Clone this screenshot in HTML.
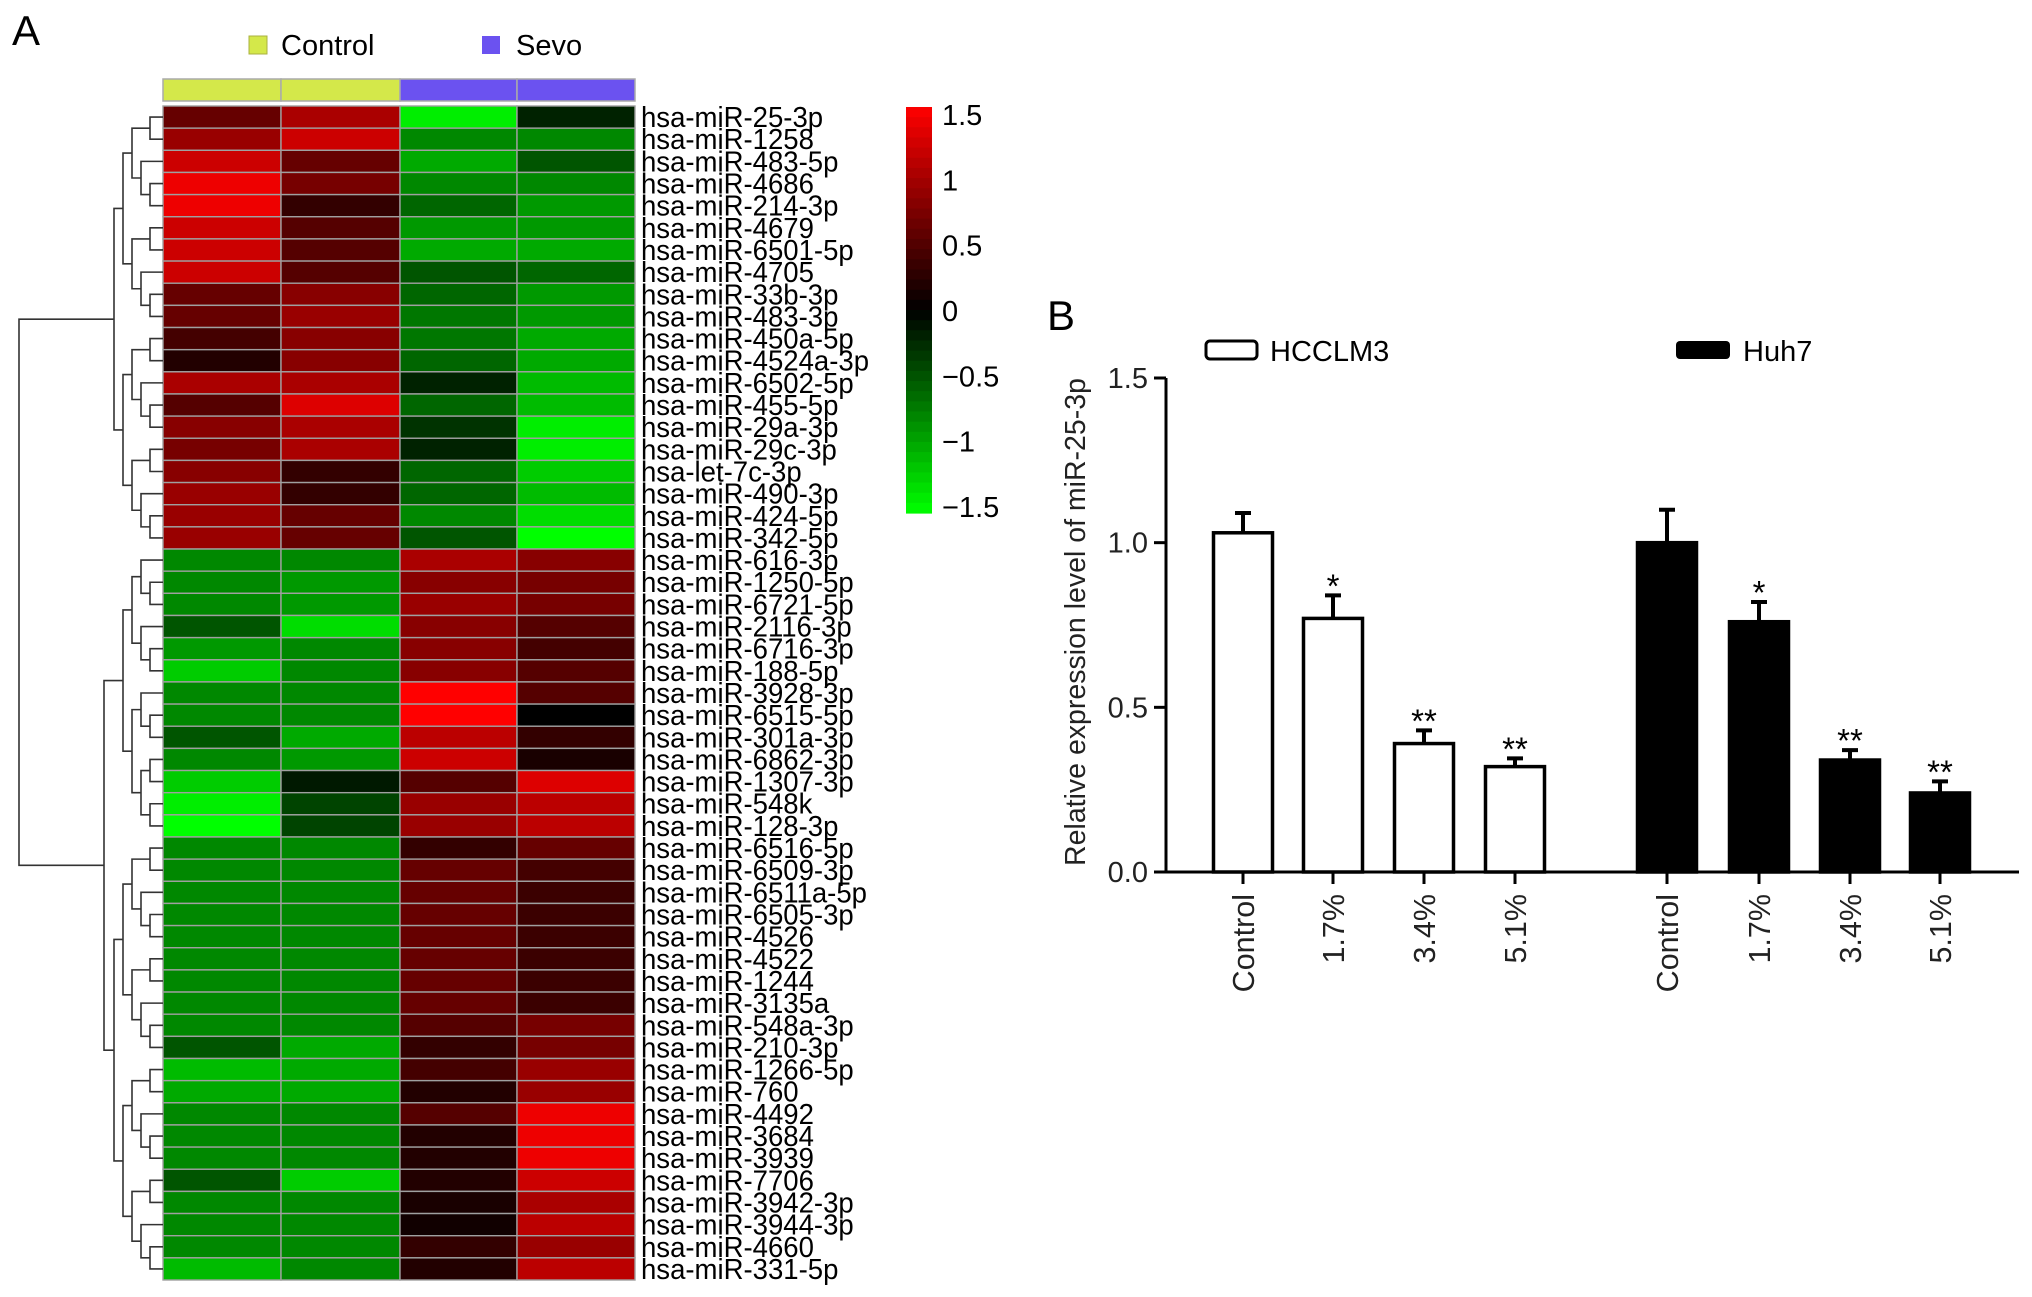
<!DOCTYPE html>
<html><head><meta charset="utf-8"><style>
html,body{margin:0;padding:0;background:#fff;}
svg{display:block;font-family:"Liberation Sans",Arial,sans-serif;}
</style></head><body>
<svg id="fig" width="2032" height="1297" viewBox="0 0 2032 1297" xmlns="http://www.w3.org/2000/svg">
<text x="12" y="45" font-size="42">A</text>
<rect x="249" y="36" width="18" height="18" fill="#d4e84a" stroke="#aab040"/>
<text x="281" y="55" font-size="29">Control</text>
<rect x="482" y="36" width="18" height="18" fill="#6b52f0"/>
<text x="516" y="55" font-size="29">Sevo</text>
<g id="heat"></g>
<g id="dendro" stroke="#333" stroke-width="1.6" fill="none"></g>
<g id="cbar"></g>
<text x="1047" y="330" font-size="42">B</text>
<rect x="1206" y="341" width="51" height="18" rx="4" fill="#fff" stroke="#000" stroke-width="3"/>
<text x="1270" y="361" font-size="29">HCCLM3</text>
<rect x="1676" y="341" width="54" height="18" rx="4" fill="#000"/>
<text x="1743" y="361" font-size="29">Huh7</text>
<g id="bars"></g>
</svg>
<script>
const genes=["hsa-miR-25-3p","hsa-miR-1258","hsa-miR-483-5p","hsa-miR-4686","hsa-miR-214-3p","hsa-miR-4679","hsa-miR-6501-5p","hsa-miR-4705","hsa-miR-33b-3p","hsa-miR-483-3p","hsa-miR-450a-5p","hsa-miR-4524a-3p","hsa-miR-6502-5p","hsa-miR-455-5p","hsa-miR-29a-3p","hsa-miR-29c-3p","hsa-let-7c-3p","hsa-miR-490-3p","hsa-miR-424-5p","hsa-miR-342-5p","hsa-miR-616-3p","hsa-miR-1250-5p","hsa-miR-6721-5p","hsa-miR-2116-3p","hsa-miR-6716-3p","hsa-miR-188-5p","hsa-miR-3928-3p","hsa-miR-6515-5p","hsa-miR-301a-3p","hsa-miR-6862-3p","hsa-miR-1307-3p","hsa-miR-548k","hsa-miR-128-3p","hsa-miR-6516-5p","hsa-miR-6509-3p","hsa-miR-6511a-5p","hsa-miR-6505-3p","hsa-miR-4526","hsa-miR-4522","hsa-miR-1244","hsa-miR-3135a","hsa-miR-548a-3p","hsa-miR-210-3p","hsa-miR-1266-5p","hsa-miR-760","hsa-miR-4492","hsa-miR-3684","hsa-miR-3939","hsa-miR-7706","hsa-miR-3942-3p","hsa-miR-3944-3p","hsa-miR-4660","hsa-miR-331-5p"];
const ctrl1=[0.6,0.9,1.2,1.4,1.4,1.2,1.2,1.2,0.6,0.6,0.4,0.2,1.0,0.5,0.8,0.7,0.8,0.9,0.9,0.9,-0.8,-0.8,-0.8,-0.5,-0.9,-1.2,-0.8,-0.8,-0.5,-0.8,-1.2,-1.4,-1.5,-0.8,-0.8,-0.8,-0.8,-0.8,-0.8,-0.8,-0.8,-0.8,-0.5,-1.1,-1.0,-0.8,-0.8,-0.8,-0.5,-0.8,-0.8,-0.8,-1.1];
const ctrl2=[1.0,1.2,0.6,0.7,0.3,0.5,0.5,0.5,0.8,0.9,0.8,0.8,1.0,1.3,1.0,1.0,0.3,0.3,0.6,0.6,-0.8,-0.9,-0.9,-1.3,-0.8,-0.8,-0.8,-0.8,-1.0,-0.9,-0.15,-0.4,-0.4,-0.8,-0.8,-0.8,-0.8,-0.8,-0.8,-0.8,-0.8,-0.8,-1.0,-1.0,-1.0,-0.8,-0.8,-0.8,-1.2,-0.8,-0.8,-0.8,-0.8];
const sevo1=[-1.4,-0.8,-1.0,-0.8,-0.6,-0.9,-1.0,-0.5,-0.6,-0.7,-0.7,-0.6,-0.2,-0.6,-0.3,-0.2,-0.6,-0.6,-0.8,-0.5,1.0,0.8,0.9,0.8,0.8,0.8,1.5,1.5,1.1,1.2,0.5,0.9,0.9,0.3,0.6,0.6,0.6,0.6,0.6,0.6,0.6,0.5,0.3,0.4,0.2,0.5,0.2,0.2,0.2,0.15,0.1,0.3,0.2];
const sevo2=[-0.2,-0.8,-0.5,-0.8,-0.9,-0.9,-1.0,-0.6,-0.9,-0.9,-1.0,-1.0,-1.1,-1.1,-1.4,-1.4,-1.2,-1.1,-1.3,-1.5,0.8,0.7,0.7,0.5,0.4,0.5,0.5,0.0,0.3,0.15,1.3,1.1,1.1,0.6,0.4,0.35,0.35,0.35,0.35,0.35,0.35,0.7,0.7,0.9,0.9,1.4,1.4,1.4,1.2,1.0,1.1,0.9,1.1];
const cbTicks=[1.5,1,0.5,0,-0.5,-1,-1.5];
const cbLabels=["1.5","1","0.5","0","\u22120.5","\u22121","\u22121.5"];

const categories=["Control","1.7%","3.4%","5.1%"];
const hcclm3=[1.03,0.77,0.39,0.32];
const hcclm3Err=[0.06,0.07,0.04,0.025];
const huh7=[1.0,0.76,0.34,0.24];
const huh7Err=[0.10,0.06,0.03,0.035];
const stars=["","*","**","**"];
const yTicks=[0,0.5,1.0,1.5];
const yTickLabels=["0.0","0.5","1.0","1.5"];

const NS="http://www.w3.org/2000/svg";
function mk(tag,attrs,parent){const e=document.createElementNS(NS,tag);for(const k in attrs)e.setAttribute(k,attrs[k]);parent.appendChild(e);return e;}
function col(v){v=Math.max(-1.5,Math.min(1.5,v));const t=Math.abs(v)/1.5;const c=Math.round(255*t);return v>=0?`rgb(${c},0,0)`:`rgb(0,${c},0)`;}

const heat=document.getElementById('heat');
const hx0=163,hx1=635,hy0=106,hy1=1280;
const colEdges=[163,281,400,517,635];
const rowH=(hy1-hy0)/genes.length;
const annot=["#d4e84a","#d4e84a","#6b52f0","#6b52f0"];
for(let c=0;c<4;c++){
  const a=mk('rect',{x:colEdges[c],y:79,width:colEdges[c+1]-colEdges[c],height:22,fill:annot[c],stroke:"#aaa","stroke-width":1.5},heat);
  
  
}
const cols=[ctrl1,ctrl2,sevo1,sevo2];
genes.forEach((g,i)=>{
  const y=hy0+i*rowH;
  for(let c=0;c<4;c++){
    const r=mk('rect',{x:colEdges[c],y:y,width:colEdges[c+1]-colEdges[c],height:rowH,fill:col(cols[c][i]),stroke:"#a0a0a0","stroke-width":1.4},heat);
    
    
  }
  const t=mk('text',{x:641,y:y+rowH/2+10,"font-size":29,transform:`translate(641,0) scale(0.95,1) translate(-641,0)`},heat);
  t.textContent=g;
  
  
});

const dg=document.getElementById('dendro');
function build(a,b){
  if(b-a===1) return {y:hy0+(a+0.5)*rowH,x:163,h:0};
  const m=Math.floor((a+b)/2);
  const L=build(a,m),R=build(m,b);
  const h=Math.max(L.h,R.h)+1;
  const x=163-9*h-4;
  mk('path',{d:`M${L.x},${L.y}H${x}V${R.y}H${R.x}`},dg);
  return {y:(L.y+R.y)/2,x:x,h:h};
}
const up=build(0,20);
const lo1=build(20,33),lo2=build(33,53);
const lx=104;
mk('path',{d:`M${lo1.x},${lo1.y}H${lx}V${lo2.y}H${lo2.x}`},dg);
const lo={y:(lo1.y+lo2.y)/2,x:lx};
mk('path',{d:`M${up.x},${up.y}H19V${lo.y}H${lo.x}`},dg);

const cb=document.getElementById('cbar');
const cy0=107,cy1=513,N=40;
for(let k=0;k<N;k++){
  const v=1.5-3*(k+0.5)/N;
  const s=mk('rect',{x:906,y:cy0+k*(cy1-cy0)/N,width:26,height:(cy1-cy0)/N+0.6,fill:col(v)},cb);
  
  
}
const ly0=115,ly1=507;
cbTicks.forEach((v,i)=>{
  const y=ly0+(1.5-v)/3*(ly1-ly0);
  const t=mk('text',{x:942,y:y+10,"font-size":29},cb);
  t.textContent=cbLabels[i];
  
  
});

const bg=document.getElementById('bars');
const ax0=1166,ax1=2019,yBase=872,yTop=378;
const yS=v=>yBase-(v/1.5)*(yBase-yTop);
const g1x=[1243,1333,1424,1515],g2x=[1667,1759,1850,1940];
const bw=62;
mk('line',{x1:ax0,y1:yTop,x2:ax0,y2:yBase,stroke:"#000","stroke-width":3},bg);
mk('line',{x1:ax0,y1:yBase,x2:ax1,y2:yBase,stroke:"#000","stroke-width":3},bg);
yTicks.forEach((v,i)=>{
  const y=yS(v);
  const l=mk('line',{x1:ax0-12,y1:y,x2:ax0,y2:y,stroke:"#000","stroke-width":3},bg);
  
  
  const t=mk('text',{x:ax0-18,y:y+10,"font-size":29,"text-anchor":"end",fill:"#222"},bg);
  t.textContent=yTickLabels[i];
  
  
});
const yt=mk('text',{x:0,y:0,"font-size":28.5,"text-anchor":"middle",transform:"translate(1085,622) rotate(-90)",fill:"#222"},bg);
yt.textContent="Relative expression level of miR-25-3p";


function series(xs,vals,errs,fill,name){
  vals.forEach((v,i)=>{
    const cx=xs[i],top=yS(v),et=yS(v+errs[i]);
    const e=mk('path',{d:`M${cx},${top}V${et}M${cx-8},${et}H${cx+8}`,stroke:"#000","stroke-width":4,fill:"none"},bg);
    
    
    const r=mk('rect',{x:cx-bw/2+1.5,y:top,width:bw-3,height:yBase-top,fill:fill,stroke:"#000","stroke-width":3.5},bg);
    
    
    if(stars[i]){
      const s=mk('text',{x:cx,y:et+2,"font-size":33,"text-anchor":"middle"},bg);
      s.textContent=stars[i];
      
      
    }
    const tk=mk('line',{x1:cx,y1:yBase,x2:cx,y2:yBase+12,stroke:"#000","stroke-width":3},bg);
    
    
    const t=mk('text',{x:0,y:0,"font-size":30.5,"text-anchor":"end",transform:`translate(${cx+11},${yBase+22}) rotate(-90)`,fill:"#222"},bg);
    t.textContent=categories[i];
    
    
  });
}
series(g1x,hcclm3,hcclm3Err,"#fff","hcclm3");
series(g2x,huh7,huh7Err,"#000","huh7");
</script>
</body></html>
